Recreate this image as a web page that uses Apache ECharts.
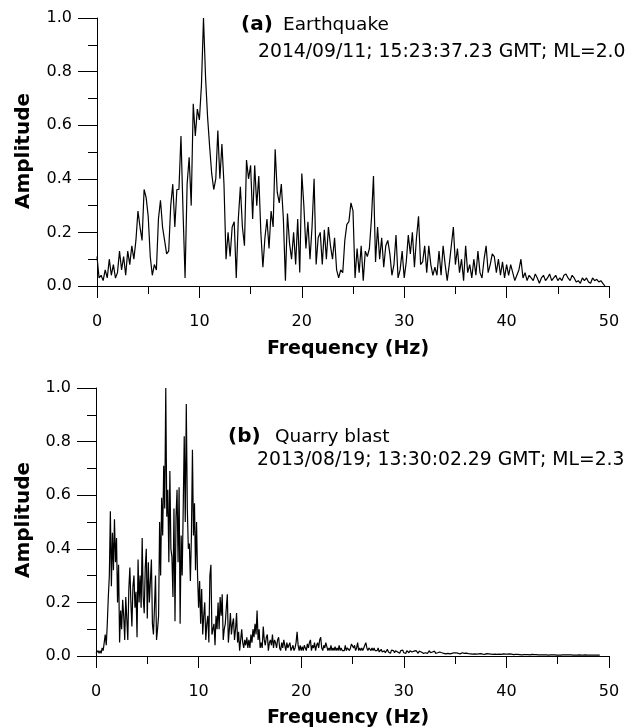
<!DOCTYPE html>
<html>
<head>
<meta charset="utf-8">
<script src="https://cdn.jsdelivr.net/npm/echarts@6/dist/echarts.min.js"></script>
<style>
html,body{margin:0;padding:0;background:#fff;}
#chart{width:629px;height:727px;}
</style>
</head>
<body>
<div id="chart"></div>
<script>
const STEP_A = 0.2;
const STEP_B = 0.1;

// (a) Earthquake spectrum amplitude, f = 0 .. 49.6 Hz
const ampA = [
  0.11,0.03,0.04,0.02,0.06,0.03,0.10,0.04,0.08,0.03,
  0.05,0.13,0.06,0.11,0.04,0.13,0.08,0.15,0.10,0.17,
  0.28,0.22,0.17,0.36,0.33,0.26,0.11,0.04,0.08,0.06,
  0.25,0.32,0.22,0.17,0.12,0.13,0.30,0.38,0.22,0.36,
  0.36,0.56,0.28,0.03,0.38,0.48,0.30,0.68,0.56,0.66,
  0.62,0.75,1.00,0.78,0.63,0.52,0.42,0.36,0.40,0.58,
  0.40,0.53,0.38,0.10,0.20,0.11,0.22,0.24,0.03,0.25,
  0.37,0.22,0.15,0.47,0.40,0.45,0.25,0.45,0.30,0.41,
  0.20,0.07,0.18,0.25,0.14,0.28,0.22,0.51,0.35,0.31,
  0.38,0.25,0.02,0.27,0.16,0.10,0.20,0.08,0.25,0.05,
  0.42,0.30,0.14,0.24,0.10,0.22,0.40,0.08,0.18,0.20,
  0.08,0.21,0.10,0.22,0.15,0.10,0.18,0.06,0.03,0.06,
  0.05,0.17,0.23,0.24,0.31,0.28,0.03,0.14,0.05,0.15,
  0.02,0.13,0.11,0.14,0.25,0.41,0.09,0.22,0.10,0.18,
  0.07,0.15,0.17,0.12,0.04,0.08,0.19,0.03,0.06,0.13,
  0.03,0.09,0.19,0.12,0.20,0.07,0.18,0.26,0.08,0.09,
  0.15,0.05,0.15,0.08,0.04,0.07,0.04,0.13,0.04,0.15,
  0.08,0.02,0.08,0.15,0.22,0.08,0.14,0.05,0.10,0.02,
  0.15,0.05,0.08,0.03,0.10,0.04,0.13,0.05,0.03,0.10,
  0.15,0.05,0.08,0.12,0.11,0.05,0.10,0.04,0.09,0.03,
  0.08,0.04,0.08,0.05,0.02,0.04,0.06,0.10,0.03,0.05,
  0.02,0.04,0.03,0.02,0.045,0.03,0.01,0.03,0.04,0.02,
  0.03,0.045,0.02,0.03,0.04,0.02,0.03,0.02,0.04,0.045,
  0.03,0.02,0.04,0.03,0.015,0.02,0.01,0.03,0.02,0.03,
  0.015,0.01,0.03,0.02,0.025,0.015,0.02,0.01,0.0
];

// (b) Quarry blast spectrum amplitude, f = 0 .. 49.1 Hz
const ampB = [
  0.01,0.01,0.02,0.01,0.02,0.01,0.03,0.02,0.05,0.08,
  0.04,0.12,0.22,0.30,0.54,0.26,0.46,0.32,0.51,0.35,
  0.44,0.20,0.34,0.05,0.17,0.10,0.21,0.15,0.06,0.22,
  0.14,0.06,0.25,0.33,0.20,0.11,0.26,0.30,0.18,0.24,
  0.07,0.36,0.20,0.30,0.18,0.44,0.22,0.16,0.33,0.40,
  0.14,0.35,0.20,0.28,0.36,0.12,0.08,0.18,0.30,0.06,
  0.10,0.15,0.50,0.30,0.59,0.45,0.71,0.55,1.00,0.52,
  0.62,0.35,0.69,0.40,0.37,0.22,0.55,0.13,0.52,0.62,
  0.35,0.63,0.12,0.45,0.30,0.55,0.82,0.50,0.94,0.55,
  0.40,0.42,0.28,0.45,0.77,0.45,0.57,0.32,0.50,0.30,
  0.18,0.28,0.12,0.25,0.08,0.15,0.20,0.06,0.12,0.15,
  0.05,0.30,0.34,0.08,0.10,0.12,0.04,0.15,0.10,0.20,
  0.10,0.22,0.15,0.23,0.06,0.10,0.12,0.18,0.23,0.05,
  0.10,0.16,0.08,0.12,0.14,0.06,0.10,0.16,0.05,0.09,
  0.02,0.06,0.10,0.05,0.03,0.06,0.04,0.07,0.03,0.06,
  0.03,0.08,0.05,0.10,0.07,0.12,0.08,0.17,0.06,0.10,
  0.03,0.05,0.03,0.11,0.06,0.04,0.07,0.08,0.02,0.05,
  0.06,0.04,0.08,0.03,0.06,0.05,0.03,0.06,0.07,0.03,
  0.02,0.05,0.03,0.06,0.04,0.02,0.05,0.03,0.04,0.05,
  0.02,0.03,0.04,0.02,0.03,0.05,0.09,0.04,0.02,0.04,
  0.02,0.035,0.02,0.04,0.03,0.02,0.045,0.03,0.05,0.06,
  0.02,0.04,0.03,0.05,0.02,0.04,0.05,0.03,0.06,0.07,
  0.03,0.02,0.04,0.03,0.05,0.05,0.02,0.03,0.02,0.04,
  0.02,0.03,0.02,0.035,0.02,0.03,0.02,0.04,0.02,0.03,
  0.02,0.025,0.02,0.04,0.02,0.03,0.035,0.02,0.03,0.045,
  0.05,0.03,0.04,0.02,0.03,0.05,0.02,0.03,0.02,0.03,
  0.02,0.03,0.04,0.05,0.03,0.02,0.03,0.025,0.02,0.03,
  0.02,0.03,0.02,0.025,0.02,0.03,0.015,0.02,0.025,0.015,
  0.02,0.02,0.012,0.018,0.025,0.015,0.02,0.01,0.022,0.015,
  0.02,0.012,0.02,0.025,0.015,0.018,0.01,0.02,0.015,0.022,
  0.012,0.018,0.01,0.02,0.015,0.012,0.02,0.025,0.015,0.01,
  0.018,0.012,0.02,0.015,0.01,0.018,0.012,0.015,0.02,0.01,
  0.015,0.012,0.018,0.01,0.015,0.02,0.012,0.01,0.015,0.012,
  0.018,0.01,0.015,0.012,0.008,0.015,0.01,0.012,0.016,0.01,
  0.012,0.008,0.012,0.01,0.015,0.008,0.012,0.01,0.008,0.012,
  0.01,0.012,0.008,0.01,0.013,0.008,0.01,0.012,0.007,0.01,
  0.009,0.011,0.007,0.009,0.012,0.008,0.01,0.007,0.011,0.008,
  0.009,0.007,0.01,0.008,0.006,0.009,0.011,0.007,0.009,0.006,
  0.008,0.009,0.006,0.008,0.01,0.007,0.008,0.006,0.009,0.007,
  0.008,0.006,0.008,0.007,0.009,0.006,0.007,0.008,0.006,0.007,
  0.005,0.007,0.006,0.008,0.005,0.007,0.006,0.005,0.007,0.006,
  0.005,0.006,0.007,0.005,0.006,0.004,0.006,0.005,0.007,0.005,
  0.004,0.005,0.006,0.004,0.005,0.006,0.004,0.005,0.004,0.005,
  0.004,0.004,0.005,0.004,0.003,0.004,0.005,0.004,0.003,0.004,
  0.004,0.003,0.004,0.004,0.003,0.004,0.003,0.004,0.004,0.003,
  0.004,0.003,0.004,0.003,0.004,0.004,0.003,0.004,0.003,0.004,
  0.003,0.004,0.003,0.004,0.003,0.003,0.004,0.003,0.004,0.003,
  0.003,0.004,0.003,0.003,0.004,0.003,0.003,0.004,0.003,0.003,
  0.003,0.003,0.004,0.003,0.003,0.003,0.004,0.003,0.003,0.003,
  0.003,0.003
];

// Axis ticks
const xTicks = [0, 10, 20, 30, 40, 50];
const yTicks = [0.0, 0.2, 0.4, 0.6, 0.8, 1.0];

// Annotation texts
const labelA = ['(a)', 'Earthquake', '2014/09/11; 15:23:37.23 GMT; ML=2.0'];
const labelB = ['(b)', 'Quarry blast', '2013/08/19; 13:30:02.29 GMT; ML=2.3'];
const yName = 'Amplitude';
const xName = 'Frequency (Hz)';

const FONT = 'DejaVu Sans';
const chart = echarts.init(document.getElementById('chart'), null, {renderer: 'canvas'});

function toPairs(arr, step) {
  return arr.map((v, i) => [Math.round(i * step * 100) / 100, v]);
}

function xAxis(gridIndex) {
  return {
    type: 'value', gridIndex: gridIndex,
    min: xTicks[0], max: xTicks[xTicks.length - 1], interval: 10,
    axisLine: {lineStyle: {color: '#000', width: 1}},
    axisTick: {show: true, length: 12, lineStyle: {color: '#000', width: 1}},
    minorTick: {show: true, splitNumber: 2, length: 8, lineStyle: {color: '#000', width: 1}},
    splitLine: {show: false},
    axisLabel: {color: '#000', fontSize: 16, fontFamily: FONT, margin: 28}
  };
}
function yAxis(gridIndex) {
  return {
    type: 'value', gridIndex: gridIndex,
    min: yTicks[0], max: yTicks[yTicks.length - 1], interval: 0.2,
    axisLine: {show: true, lineStyle: {color: '#000', width: 1}},
    axisTick: {show: true, length: 19, lineStyle: {color: '#000', width: 1}},
    minorTick: {show: true, splitNumber: 2, length: 9, lineStyle: {color: '#000', width: 1}},
    splitLine: {show: false},
    axisLabel: {color: '#000', fontSize: 16, fontFamily: FONT, margin: 25,
      formatter: v => v.toFixed(1)}
  };
}

const txt = (x, y, text, size, bold, align) => ({
  type: 'text', x: x, y: y, silent: true,
  style: {text: text, fill: '#000', fontSize: size, fontFamily: FONT,
    fontWeight: bold ? 'bold' : 'normal', align: align || 'left', verticalAlign: 'middle'}
});

const option = {
  animation: false,
  backgroundColor: '#fff',
  grid: [
    {left: 97, top: 18, width: 512, height: 268},
    {left: 96, top: 388, width: 513, height: 268}
  ],
  xAxis: [xAxis(0), xAxis(1)],
  yAxis: [yAxis(0), yAxis(1)],
  series: [
    {type: 'line', xAxisIndex: 0, yAxisIndex: 0, data: toPairs(ampA, STEP_A),
      showSymbol: false, lineStyle: {color: '#000', width: 1.2}},
    {type: 'line', xAxisIndex: 1, yAxisIndex: 1, data: toPairs(ampB, STEP_B),
      showSymbol: false, lineStyle: {color: '#000', width: 1.2}}
  ],
  graphic: [
    txt(241, 25, labelA[0], 20, true),
    txt(283, 25, labelA[1], 18.5, false),
    txt(258, 52.5, labelA[2], 18.8, false),
    txt(228, 437, labelB[0], 20, true),
    txt(275, 437.5, labelB[1], 18.5, false),
    txt(257, 460, labelB[2], 18.8, false),
    {type: 'text', x: 24, y: 151, rotation: Math.PI / 2, silent: true,
      style: {text: yName, fill: '#000', fontSize: 20, fontFamily: FONT, fontWeight: 'bold',
        align: 'center', verticalAlign: 'middle'}},
    {type: 'text', x: 24, y: 520, rotation: Math.PI / 2, silent: true,
      style: {text: yName, fill: '#000', fontSize: 20, fontFamily: FONT, fontWeight: 'bold',
        align: 'center', verticalAlign: 'middle'}},
    {type: 'text', x: 348, y: 349, silent: true,
      style: {text: xName, fill: '#000', fontSize: 19, fontFamily: FONT, fontWeight: 'bold',
        align: 'center', verticalAlign: 'middle'}},
    {type: 'text', x: 348, y: 718, silent: true,
      style: {text: xName, fill: '#000', fontSize: 19, fontFamily: FONT, fontWeight: 'bold',
        align: 'center', verticalAlign: 'middle'}}
  ]
};
chart.setOption(option);
</script>
</body>
</html>
